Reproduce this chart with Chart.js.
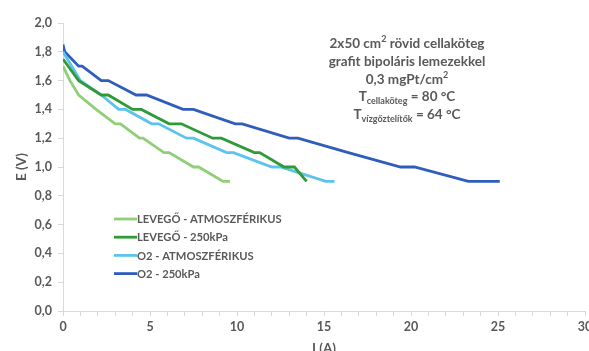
<!DOCTYPE html>
<html>
<head>
<meta charset="utf-8">
<script src="https://cdn.jsdelivr.net/npm/chart.js@4"></script>
<style>
  html, body { margin: 0; padding: 0; background: #fff; }
  #wrap { width: 589px; height: 351px; position: relative; }
</style>
</head>
<body>
<div id="wrap"><canvas id="chart"></canvas></div>
<script>
// sorozatok: I (A) és E (V)
var levegoAtmI = [0, 0.4, 0.9, 1.9, 3.0, 3.3, 4.4, 4.6, 5.8, 6.1, 7.5, 7.8, 9.2, 9.6];
var levegoAtmE = [1.70, 1.60, 1.50, 1.40, 1.30, 1.30, 1.20, 1.20, 1.10, 1.10, 1.00, 1.00, 0.90, 0.90];

var levego250I = [0, 0.3, 0.9, 2.2, 2.6, 4.0, 4.5, 6.1, 6.8, 8.6, 9.1, 11.0, 11.3, 12.7, 13.3, 14.0];
var levego250E = [1.75, 1.70, 1.60, 1.50, 1.50, 1.40, 1.40, 1.30, 1.30, 1.20, 1.20, 1.10, 1.10, 1.00, 1.00, 0.90];

var o2AtmI = [0, 0.5, 1.0, 2.2, 3.2, 3.6, 5.1, 5.5, 7.1, 7.5, 9.4, 9.8, 12.0, 12.5, 15.1, 15.6];
var o2AtmE = [1.80, 1.70, 1.60, 1.50, 1.40, 1.40, 1.30, 1.30, 1.20, 1.20, 1.10, 1.10, 1.00, 1.00, 0.90, 0.90];

var o2250I = [0, 0.1, 0.9, 1.1, 2.2, 2.6, 4.2, 4.8, 6.9, 7.5, 9.9, 10.3, 13.0, 13.5, 16.4, 19.4, 20.2, 23.3, 25.1];
var o2250E = [1.85, 1.80, 1.70, 1.70, 1.60, 1.60, 1.50, 1.50, 1.40, 1.40, 1.30, 1.30, 1.20, 1.20, 1.10, 1.00, 1.00, 0.90, 0.90];

var seriesNames = ["LEVEGŐ - ATMOSZFÉRIKUS", "LEVEGŐ - 250kPa", "O2 - ATMOSZFÉRIKUS", "O2 - 250kPa"];
var seriesColors = ["#90cf78", "#2e9a38", "#5cc3ef", "#2f5dbd"];

var xTicksMax = 30;
var yTicksMax = 2.0;

var gray = "#595959";
var axisGray = "#d9d9d9";
var fontFamily = "Lato, 'Open Sans', sans-serif";

function toPoints(xs, ys) {
  return xs.map(function (x, i) { return { x: x, y: ys[i] }; });
}

var allI = [levegoAtmI, levego250I, o2AtmI, o2250I];
var allE = [levegoAtmE, levego250E, o2AtmE, o2250E];

var datasets = seriesNames.map(function (name, i) {
  return {
    label: name,
    data: toPoints(allI[i], allE[i]),
    borderColor: seriesColors[i],
    backgroundColor: seriesColors[i],
    borderWidth: 2.8,
    pointRadius: 0,
    showLine: true,
    tension: 0,
  };
});

// jelmagyarázat a rajzterületen belül
var insideLegend = {
  id: "insideLegend",
  afterDatasetsDraw: function (chart) {
    var ctx = chart.ctx;
    ctx.save();
    ctx.font = "bold 11.2px " + fontFamily;
    ctx.textBaseline = "middle";
    ctx.textAlign = "left";
    chart.data.datasets.forEach(function (ds, i) {
      var y = 219 + i * 18.2;
      ctx.strokeStyle = ds.borderColor;
      ctx.lineWidth = 2.8;
      ctx.beginPath();
      ctx.moveTo(114, y);
      ctx.lineTo(137, y);
      ctx.stroke();
      ctx.fillStyle = gray;
      ctx.fillText(ds.label, 137, y + 0.5);
    });
    ctx.restore();
  },
};

// felirat: mérési körülmények
var infoText = {
  id: "infoText",
  afterDraw: function (chart) {
    var ctx = chart.ctx;
    var cx = 407;
    ctx.save();
    ctx.fillStyle = gray;
    ctx.textBaseline = "alphabetic";
    var big = "bold 13.5px " + fontFamily;
    var small = "bold 9px " + fontFamily;

    // egy sor részekből: [szöveg, betű, eltolás]
    function line(parts, baseY) {
      var w = 0;
      parts.forEach(function (p) { ctx.font = p[1]; w += ctx.measureText(p[0]).width; });
      var x = cx - w / 2;
      parts.forEach(function (p) {
        ctx.font = p[1];
        ctx.textAlign = "left";
        ctx.fillText(p[0], x, baseY + p[2]);
        x += ctx.measureText(p[0]).width;
      });
    }
    line([["2x50 cm", big, 0], ["2", small, -6], [" rövid cellaköteg", big, 0]], 48);
    line([["grafit bipoláris lemezekkel", big, 0]], 66);
    line([["0,3 mgPt/cm", big, 0], ["2", small, -6]], 84);
    line([["T", big, 0], ["cellaköteg", small, 3], [" = 80 °C", big, 0]], 101);
    line([["T", big, 0], ["vízgőztelítők", small, 3], [" = 64 °C", big, 0]], 119);
    ctx.restore();
  },
};

new Chart(document.getElementById("chart"), {
  type: "scatter",
  data: { datasets: datasets },
  plugins: [insideLegend, infoText],
  options: {
    responsive: true,
    maintainAspectRatio: false,
    animation: false,
    layout: { padding: { left: 0, right: 4, top: 23, bottom: 0 } },
    plugins: {
      legend: { display: false },
      tooltip: { enabled: false },
    },
    scales: {
      x: {
        type: "linear",
        min: 0,
        max: xTicksMax,
        border: { color: axisGray, width: 1 },
        grid: { drawOnChartArea: false, drawTicks: true, tickLength: 5, color: axisGray },
        ticks: {
          stepSize: 1,
          autoSkip: false,
          maxRotation: 0,
          padding: 3,
          color: gray,
          font: { family: fontFamily, size: 12.5, weight: "bold" },
          callback: function (v) { return v % 5 === 0 ? String(v) : ""; },
        },
        title: {
          display: true,
          text: "I (A)",
          color: gray,
          font: { family: fontFamily, size: 13.5, weight: "bold" },
          padding: { top: 0, bottom: -6 },
        },
        afterFit: function (scale) {
          scale.height = 40;
          scale.paddingRight = 0;
        },
      },
      y: {
        min: 0,
        max: yTicksMax,
        border: { color: axisGray, width: 1 },
        grid: { drawOnChartArea: false, drawTicks: true, tickLength: 5, color: axisGray },
        ticks: {
          stepSize: 0.2,
          padding: 6,
          color: gray,
          font: { family: fontFamily, size: 12.5, weight: "bold" },
          callback: function (v) { return v.toFixed(1).replace(".", ","); },
        },
        title: {
          display: true,
          text: "E (V)",
          color: gray,
          font: { family: fontFamily, size: 13.5, weight: "bold" },
          padding: { top: 14, bottom: 0 },
        },
        afterFit: function (scale) {
          scale.width = 63;
        },
      },
    },
  },
});
</script>
</body>
</html>
